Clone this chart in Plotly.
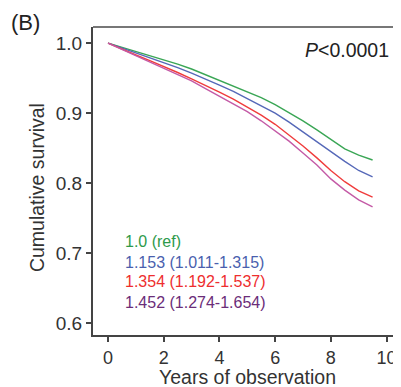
import plotly.graph_objects as go

years = [0, 0.5, 1, 1.5, 2, 2.5, 3, 3.5, 4, 4.5, 5, 5.5, 6, 6.5, 7, 7.5, 8, 8.5, 9, 9.5]
surv_ref = [1.000, 0.994, 0.988, 0.982, 0.977, 0.970, 0.963, 0.955, 0.947, 0.939,
            0.931, 0.922, 0.912, 0.901, 0.889, 0.876, 0.862, 0.849, 0.840, 0.833]
surv_q2 = [1.000, 0.993, 0.986, 0.979, 0.973, 0.965, 0.957, 0.949, 0.940, 0.931,
           0.921, 0.911, 0.900, 0.887, 0.873, 0.859, 0.844, 0.831, 0.818, 0.809]
surv_q3 = [1.000, 0.991, 0.983, 0.975, 0.967, 0.958, 0.949, 0.940, 0.930, 0.920,
           0.909, 0.897, 0.884, 0.869, 0.853, 0.836, 0.818, 0.802, 0.789, 0.780]
surv_q4 = [1.000, 0.991, 0.982, 0.973, 0.965, 0.956, 0.946, 0.935, 0.924, 0.913,
           0.902, 0.889, 0.875, 0.860, 0.843, 0.826, 0.806, 0.790, 0.776, 0.766]

labels = ["1.0 (ref)", "1.153 (1.011-1.315)", "1.354 (1.192-1.537)", "1.452 (1.274-1.654)"]
line_colors = ["#3aa655", "#5568b8", "#f03c3c", "#c45aa6"]
text_colors = ["#2e9a4a", "#4a5fae", "#ee2e2e", "#6b2d79"]
x_ticks = [0, 2, 4, 6, 8, 10]
y_ticks = [0.6, 0.7, 0.8, 0.9, 1.0]

series = [surv_ref, surv_q2, surv_q3, surv_q4]

fig = go.Figure()
for s, c, lab in zip(series, line_colors, labels):
    fig.add_trace(go.Scatter(x=years, y=s, mode="lines", name=lab,
                             line=dict(color=c, width=1.4)))

font = "Liberation Sans, Arial, sans-serif"
axis_col = "#444444"

# page body has an 8px margin; figure is sized so the plot area lands where the reference has it
fig.update_layout(
    width=393, height=379,
    margin=dict(l=85, r=0, t=19, b=52),
    plot_bgcolor="white", paper_bgcolor="white",
    showlegend=False,
    font=dict(family=font, size=19, color="#333333"),
    xaxis=dict(range=[-0.54, 10.52], tickvals=x_ticks, ticks="outside", ticklen=5,
               tickcolor=axis_col, tickwidth=1.5, showline=True, linecolor=axis_col,
               linewidth=2, showgrid=False, zeroline=False, automargin=False,
               tickfont=dict(size=18, color="#333333")),
    yaxis=dict(range=[0.583, 1.023], tickvals=y_ticks, tickformat=".1f", ticks="outside",
               ticklen=5, tickcolor=axis_col, tickwidth=1.5, showline=True,
               linecolor=axis_col, linewidth=2, showgrid=False, zeroline=False,
               automargin=False, tickfont=dict(size=19, color="#333333")),
)

fig.add_shape(type="line", xref="paper", yref="paper", x0=0, x1=1.02, y0=1, y1=1,
              line=dict(color="#777777", width=2))

fig.add_annotation(text="Years of observation", xref="paper", yref="paper",
                   x=0.5, y=-0.135, xanchor="center", yanchor="middle", showarrow=False,
                   borderpad=0, font=dict(size=19.5, color="#333333"))
fig.add_annotation(text="Cumulative survival", xref="paper", yref="paper",
                   x=-0.182, y=0.48, xanchor="center", yanchor="middle", showarrow=False,
                   borderpad=0, textangle=-90, font=dict(size=19.5, color="#333333"))

fig.add_annotation(text="(B)", xref="paper", yref="paper", x=-0.27, y=1.013,
                   xanchor="left", yanchor="middle", showarrow=False,
                   borderpad=0, font=dict(size=22, color="#222222"))
fig.add_annotation(text="<i>P</i><0.0001", xref="paper", yref="paper", x=0.966, y=0.925,
                   xanchor="right", yanchor="middle", showarrow=False,
                   font=dict(size=19.5, color="#222222"))

label_y = [0.716, 0.687, 0.659, 0.630]
for lab, c, yy in zip(labels, text_colors, label_y):
    fig.add_annotation(text=lab, xref="x", yref="y", x=0.54, y=yy,
                       xanchor="left", yanchor="middle", showarrow=False,
                       font=dict(size=16, color=c))

fig.write_html("out.html")
